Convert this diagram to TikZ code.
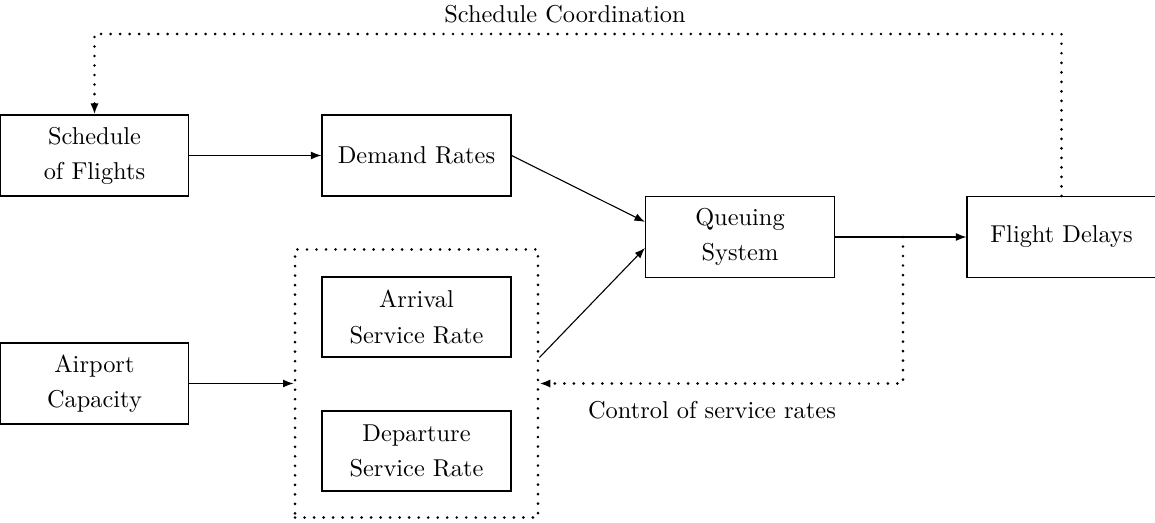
\documentclass[tikz,border=0pt]{standalone}
\usetikzlibrary{arrows.meta}

\tikzset{
  x=0.41pt, y=-0.41pt,
  block/.style={draw, line width=0.45pt, align=center,
    minimum width=77.5pt, minimum height=33.2pt, inner sep=2pt,
    font=\fontsize{10}{14.4}\selectfont},
  groupbox/.style={draw, line width=1.2pt, dash pattern=on 0pt off 3.9pt, line cap=round,
    minimum width=99.6pt, minimum height=109.9pt, inner sep=0pt},
  flow/.style={line width=0.45pt, -{Latex[length=4.3pt,width=3.2pt]}},
  feedback/.style={line width=1.2pt, dash pattern=on 0pt off 3.9pt, line cap=round,
    -{Latex[length=4.5pt,width=3.4pt]}},
  caption/.style={font=\fontsize{10}{12}\selectfont, inner sep=0pt}
}

\begin{document}
\begin{tikzpicture}
\useasboundingbox (0,0) rectangle (1155,523);

% main blocks
\node[block, minimum width=77.1pt] (sched) at (94.5,155.5) {Schedule\\of Flights};
\node[block] (demand) at (416.5,155.5) {Demand Rates};
\node[block, minimum height=33.4pt] (queue) at (740,237) {Queuing\\System};
\node[block] (delay) at (1061.5,237) {Flight Delays};
\node[block, minimum width=77.1pt] (airport) at (94.5,383.5) {Airport\\Capacity};

% service rate group
\node[groupbox] (svc) at (416.5,383.5) {};
\node[block, minimum height=32.8pt] (arrival) at (416.5,317) {Arrival\\Service Rate};
\node[block, minimum height=32.8pt] (departure) at (416.5,451) {Departure\\Service Rate};

% forward flow
\draw[flow] (sched.east) -- (demand.west);
\draw[flow] (demand.east) -- ([yshift=6.2pt]queue.west);
\draw[flow] (svc.east |- arrival.south) -- ([yshift=-4.5pt]queue.west);
\draw[flow] (airport.east) -- (svc.west);
\draw[flow] (queue.east) -- (delay.west);

% control of service rates
\coordinate (ctl) at (903,237);
\draw[feedback] (ctl) -- (ctl |- svc.east) -- (svc.east);
\node[caption] (ctltext) at (712,410) {Control of service rates};

% schedule coordination
\coordinate (coord) at (565,34);
\draw[feedback] (delay.north) -- (delay.north |- coord) -- (sched.north |- coord) -- (sched.north);
\node[caption] (coordtext) at (565,14) {Schedule Coordination};
\end{tikzpicture}
\end{document}
